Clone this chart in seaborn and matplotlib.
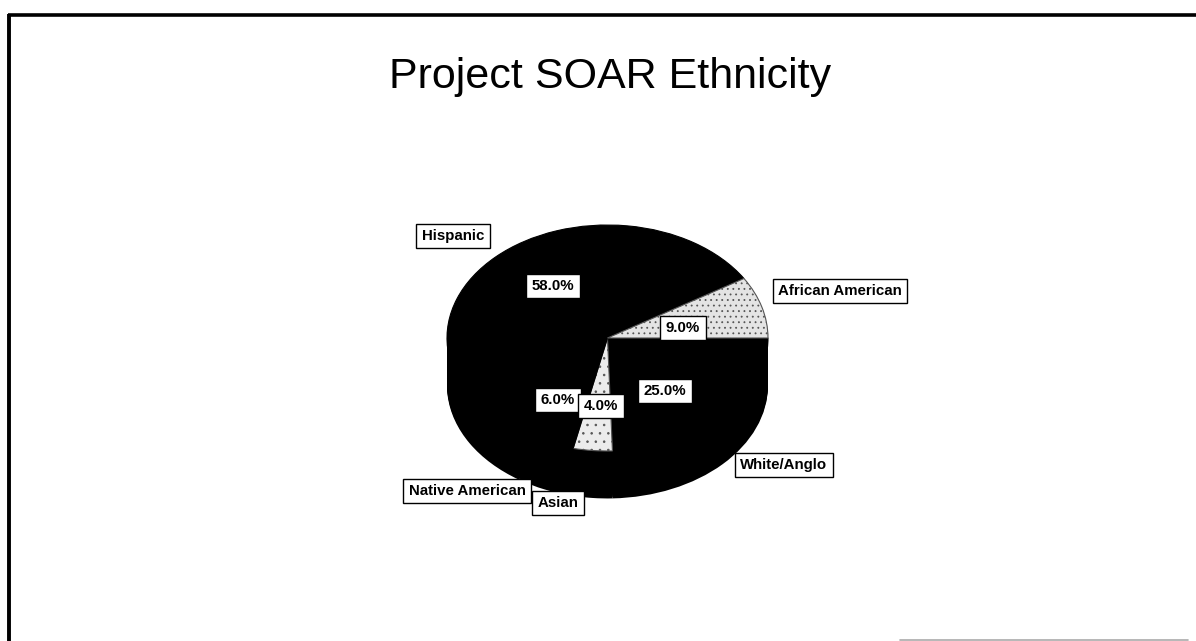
import numpy as np
import seaborn as sns
import matplotlib.pyplot as plt
from matplotlib.lines import Line2D

# data (labels as printed, they sum to 102)
categories = ["White/Anglo", "Asian", "Native American", "Hispanic", "African American"]
shares = [25.0, 4.0, 6.0, 58.0, 9.0]
top_colors = ["#000000", "#ececec", "#000000", "#000000", "#e4e4e4"]
hatches = [None, "..", None, None, "..."]

sns.set_style("white")
plt.rcParams["font.family"] = ["Liberation Sans", "DejaVu Sans"]
plt.rcParams["text.color"] = "black"
plt.rcParams["hatch.linewidth"] = 0.6

W, H = 1196, 641
fig = plt.figure(figsize=(W / 100, H / 100), dpi=100)
ax = fig.add_axes([0, 0, 1, 1])

# pie geometry in pixels (tilted 3-D look)
cx, cy, rx, ry, depth = 607.5, 338, 160.5, 113, 0.42


def px(x, y):
    # pixel position -> data coords of the pie axes
    return (x - cx) / rx, (cy - y) / ry


# side of the 3-D pie: stacked black copies shifted down
for k in np.linspace(depth, 0.02, 30):
    ax.pie(shares, radius=1, center=(0, -k), startangle=0, counterclock=False,
           colors=["black"] * len(shares), wedgeprops=dict(linewidth=0))

wedges, _ = ax.pie(shares, radius=1, center=(0, 0), startangle=0, counterclock=False,
                   colors=top_colors,
                   wedgeprops=dict(edgecolor="black", linewidth=0.8))
for w, h in zip(wedges, hatches):
    if h:
        w.set_hatch(h)
        w.set_edgecolor("#555555")

ax.set_aspect("auto")
ax.set_xlim(-cx / rx, (W - cx) / rx)
ax.set_ylim((cy - H) / ry, cy / ry)
ax.axis("off")

box = dict(boxstyle="square,pad=0.36", facecolor="white", edgecolor="black", linewidth=1)

# category labels and percentage labels (pixel centres)
cat_pos = {"Hispanic": (453, 236), "African American": (840, 291),
           "White/Anglo": (784, 465), "Native American": (467, 491), "Asian": (558, 503)}
pct_pos = {"Hispanic": (553, 286), "African American": (683, 328),
           "White/Anglo": (665, 391), "Native American": (558, 400), "Asian": (601, 406)}
# drawing order of the boxes: the 4.0% box sits on top of the 6.0% one
stack = {"White/Anglo": 5, "Asian": 9, "Native American": 8, "Hispanic": 6,
         "African American": 7}

for name, val in zip(categories, shares):
    x, y = px(*cat_pos[name])
    ax.text(x, y, name, ha="center", va="center", fontsize=10.8, fontweight="bold",
            color="black", bbox=box, zorder=stack[name])
    x, y = px(*pct_pos[name])
    ax.text(x, y, f"{val:.1f}%", ha="center", va="center", fontsize=10.8,
            fontweight="bold", color="black", bbox=box, zorder=stack[name])

fig.text(610 / W, 1 - 88 / H, "Project SOAR Ethnicity", ha="center", va="baseline",
         fontsize=31, color="black")

# slide frame
fig.add_artist(Line2D([8 / W, 1], [1 - 14.5 / H] * 2, color="black", lw=2.6,
                      solid_capstyle="butt"))
fig.add_artist(Line2D([9 / W] * 2, [0, 1 - 13.5 / H], color="black", lw=2.8,
                      solid_capstyle="butt"))
fig.add_artist(Line2D([900 / W, 1188 / W], [1.2 / H] * 2, color="#aaaaaa", lw=1.2))

fig.savefig("out.png", dpi=100)
